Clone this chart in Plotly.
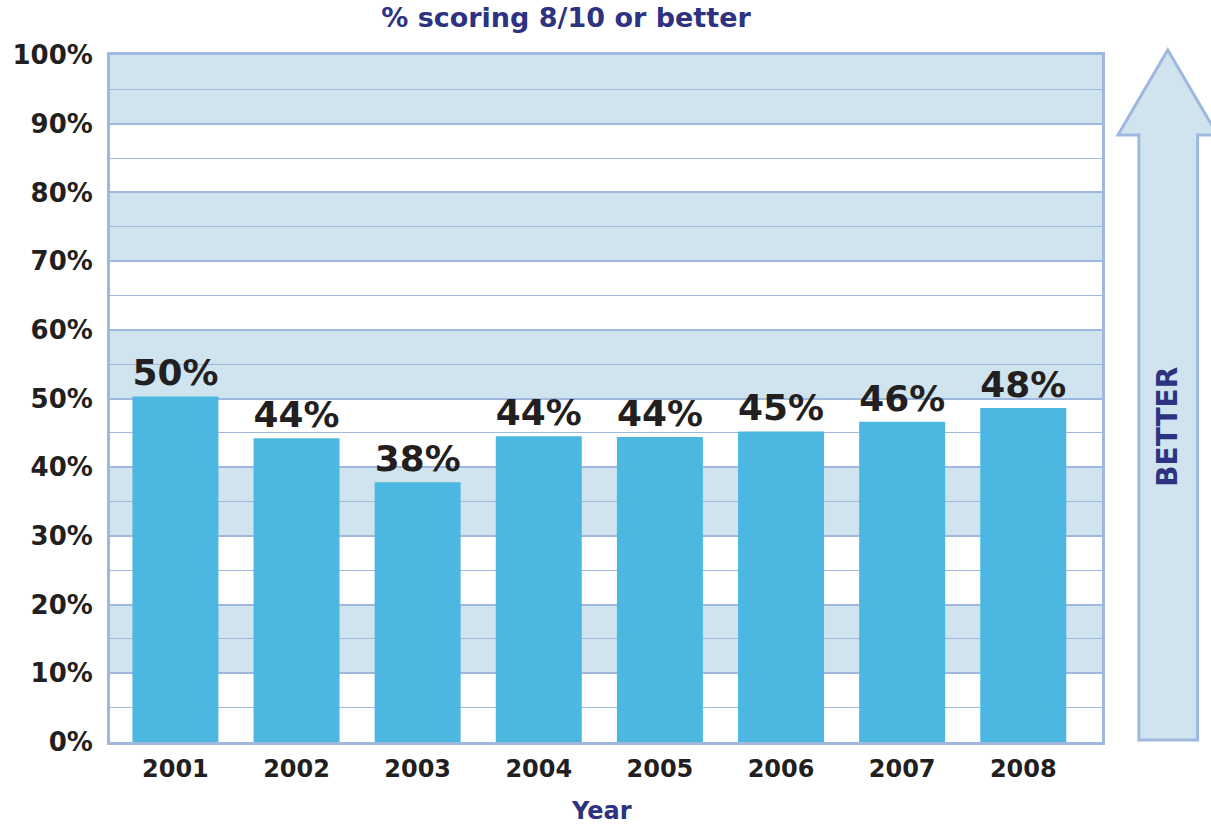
import plotly.graph_objects as go

years = ["2001", "2002", "2003", "2004", "2005", "2006", "2007", "2008"]
values = [50.3, 44.2, 37.8, 44.5, 44.4, 45.2, 46.6, 48.6]
labels = ["50%", "44%", "38%", "44%", "44%", "45%", "46%", "48%"]
y_ticks = [0, 10, 20, 30, 40, 50, 60, 70, 80, 90, 100]
shaded_bands = [(10, 20), (30, 40), (50, 60), (70, 80), (90, 100)]

title_text = "% scoring 8/10 or better"
x_title = "Year"
arrow_text = "BETTER"

W, H = 1211, 826
L, R, T, B = 106, 109, 55, 84
PW, PH = W - L - R, H - T - B

NAVY = "#2d3381"
DARK = "#231f20"
BAR = "#4cb8e2"
BAND = "#cfe4ef"
GRID = "#9fb8de"


def px(x):
    return (x - L) / PW


def py(y):
    return (H - B - y) / PH


xs = list(range(len(years)))

fig = go.Figure(
    go.Bar(
        x=xs,
        y=values,
        width=0.71,
        marker=dict(color=BAR, line=dict(width=0)),
        text=labels,
        textposition="outside",
        textfont=dict(family="DejaVu Sans", size=36, color=DARK, weight="bold"),
        cliponaxis=False,
    )
)

shapes = []
for lo, hi in shaded_bands:
    shapes.append(dict(type="rect", xref="paper", yref="y", x0=0, x1=1, y0=lo, y1=hi,
                       fillcolor=BAND, line=dict(width=0), layer="below"))

# arrow
pts = [(1168, 50), (1118, 135), (1139, 135), (1139, 740), (1198, 740), (1198, 135), (1218, 135)]
path = "M " + " L ".join(f"{px(a):.5f},{py(b):.5f}" for a, b in pts) + " Z"
shapes.append(dict(type="path", xref="paper", yref="paper", path=path,
                   fillcolor=BAND, line=dict(color=GRID, width=3), layer="above"))

fig.update_layout(
    width=W, height=H,
    margin=dict(l=L, r=R, t=T, b=B),
    paper_bgcolor="white",
    plot_bgcolor="white",
    showlegend=False,
    shapes=shapes,
    title=dict(text=title_text, x=566 / W, xanchor="center", xref="container",
               y=1 - 18 / H, yanchor="middle", yref="container",
               font=dict(family="DejaVu Sans", size=27, color=NAVY, weight="bold")),
    annotations=[
        dict(text=x_title, xref="paper", yref="paper", x=px(599), y=py(811),
             xanchor="center", yanchor="middle", showarrow=False,
             font=dict(family="DejaVu Sans", size=24, color=NAVY, weight="bold")),
        dict(text=arrow_text, xref="paper", yref="paper", x=px(1168), y=py(427),
             xanchor="center", yanchor="middle", showarrow=False, textangle=-90,
             font=dict(family="DejaVu Sans", size=28, color=NAVY, weight="bold")),
    ],
)

fig.update_xaxes(
    range=[-0.54, 7.65],
    tickmode="array", tickvals=xs, ticktext=years,
    tickfont=dict(family="DejaVu Sans", size=24, color=DARK, weight="bold"),
    showgrid=False, zeroline=False,
    showline=True, linecolor=GRID, linewidth=3, mirror=True,
    ticks="", ticklabelstandoff=3,
    fixedrange=True,
)

fig.update_yaxes(
    range=[0, 100],
    tickmode="array", tickvals=y_ticks, ticktext=[f"{v}%" for v in y_ticks],
    tickfont=dict(family="DejaVu Sans", size=26, color=DARK, weight="bold"),
    showgrid=True, gridcolor=GRID, gridwidth=2,
    minor=dict(dtick=5, tick0=0, showgrid=True, gridcolor=GRID, gridwidth=1, ticks=""),
    zeroline=False,
    showline=True, linecolor=GRID, linewidth=3, mirror=True,
    ticks="", ticklabelstandoff=9,
    fixedrange=True,
)

fig.write_html("out.html", config={"displayModeBar": False},
               post_script="document.body.style.margin='0';document.body.style.overflow='hidden';")
